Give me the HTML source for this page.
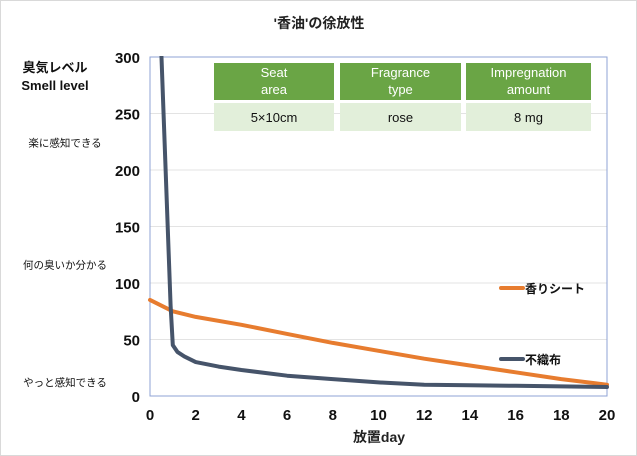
<!DOCTYPE html>
<html><head><meta charset="utf-8"><style>
body{margin:0;background:#fff;font-family:"Liberation Sans","Noto Sans CJK JP",sans-serif;}
#wrap{position:relative;width:635px;height:454px;border:1px solid #d9d9d9;}
</style></head><body>
<div id="wrap">
<svg id="chart" width="635" height="454" style="position:absolute;left:0;top:0"></svg>
</div>
<script>
const sheetX=[0,1,2,4,6,8,10,12,14,16,18,20];
const sheetVals=[85,75,70,63,55,47,40,33,27,21,15,10];
const fabricX=[0.5,0.9,1,1.2,1.5,2,3,4,6,8,10,12,14,16,18,20];
const fabricVals=[302,80,45,39,35,30,26,23,18,15,12,10,9.5,9,8.5,8];
const yTicks=[0,50,100,150,200,250,300];
const xTicks=[0,2,4,6,8,10,12,14,16,18,20];
const levelLabels=["楽に感知できる","何の臭いか分かる","やっと感知できる"];
const levelVals=[221,113,9];

const svg=document.getElementById('chart');const NS='http://www.w3.org/2000/svg';
const X0=149,X1=606,Y0=395,Y1=56;
const xs=v=>X0+(v-0)/20*(X1-X0);
const ys=v=>Y0-(v/300)*(Y0-Y1);
function el(t,a,txt){const e=document.createElementNS(NS,t);for(const k in a)e.setAttribute(k,a[k]);if(txt!==undefined)e.textContent=txt;svg.appendChild(e);return e;}
let e;
e=el('text',{x:318,y:27,'text-anchor':'middle','font-size':14,'font-weight':'bold',fill:'#222'},"'香油'の徐放性");


yTicks.forEach(v=>{
 if(v>0){e=el('line',{x1:X0,x2:X1,y1:ys(v),y2:ys(v),stroke:'#e3e3e3','stroke-width':1});
 
 }
 e=el('text',{x:139,y:ys(v)+6,'text-anchor':'end','font-size':15,'font-weight':'bold',fill:'#111'},v);
 
 
});
e=el('rect',{x:X0,y:Y1,width:X1-X0,height:Y0-Y1,fill:'none',stroke:'#8fa3d4','stroke-width':1});


xTicks.forEach(v=>{
 e=el('text',{x:xs(v),y:419,'text-anchor':'middle','font-size':15,'font-weight':'bold',fill:'#111'},v);
 
 
});
e=el('text',{x:378,y:441,'text-anchor':'middle','font-size':14,'font-weight':'bold',fill:'#222'},'放置day');


e=el('text',{x:54,y:71,'text-anchor':'middle','font-size':13,'font-weight':'bold',fill:'#111'},'臭気レベル');


e=el('text',{x:54,y:89,'text-anchor':'middle','font-size':13,'font-weight':'bold',fill:'#111'},'Smell level');


levelLabels.forEach((t,i)=>{
 e=el('text',{x:64,y:ys(levelVals[i]),'text-anchor':'middle','font-size':10.5,fill:'#111'},t);
 
 
});
function line(xa,va,color,name){
 const d=xa.map((x,i)=>(i?'L':'M')+xs(x).toFixed(1)+' '+ys(va[i]).toFixed(1)).join(' ');
 e=el('path',{d:d,fill:'none',stroke:color,'stroke-width':4,'stroke-linejoin':'round','stroke-linecap':'round'});
 
 
}
line(sheetX,sheetVals,'#e77c2f','series-scent-sheet');
line(fabricX,fabricVals,'#46546a','series-nonwoven');
e=el('rect',{x:X0+1,y:0,width:40,height:Y1-1,fill:'#fff'});


[['香りシート','#e77c2f',287,'legend-scent-sheet'],['不織布','#46546a',358,'legend-nonwoven']].forEach(l=>{
 e=el('line',{x1:500,x2:522,y1:l[2],y2:l[2],stroke:l[1],'stroke-width':4,'stroke-linecap':'round'});
 
 
 e=el('text',{x:524,y:l[2]+5,'font-size':12,'font-weight':'bold',fill:'#111'},l[0]);
 
 
});
const cols=[[213,120],[339,121],[465,125]];
const heads=[['Seat','area'],['Fragrance','type'],['Impregnation','amount']];
const vals=['5×10cm','rose','8 mg'];
cols.forEach((c,i)=>{
 e=el('rect',{x:c[0],y:62,width:c[1],height:37,fill:'#6aa545'});
 
 
 e=el('rect',{x:c[0],y:102,width:c[1],height:28,fill:'#e2efda'});
 
 
 heads[i].forEach((h,j)=>{
  e=el('text',{x:c[0]+c[1]/2,y:76+j*17,'text-anchor':'middle','font-size':13,fill:'#fff'},h);
  
  
 });
 e=el('text',{x:c[0]+c[1]/2,y:121,'text-anchor':'middle','font-size':13,fill:'#111'},vals[i]);
 
 
});
</script>
</body></html>
